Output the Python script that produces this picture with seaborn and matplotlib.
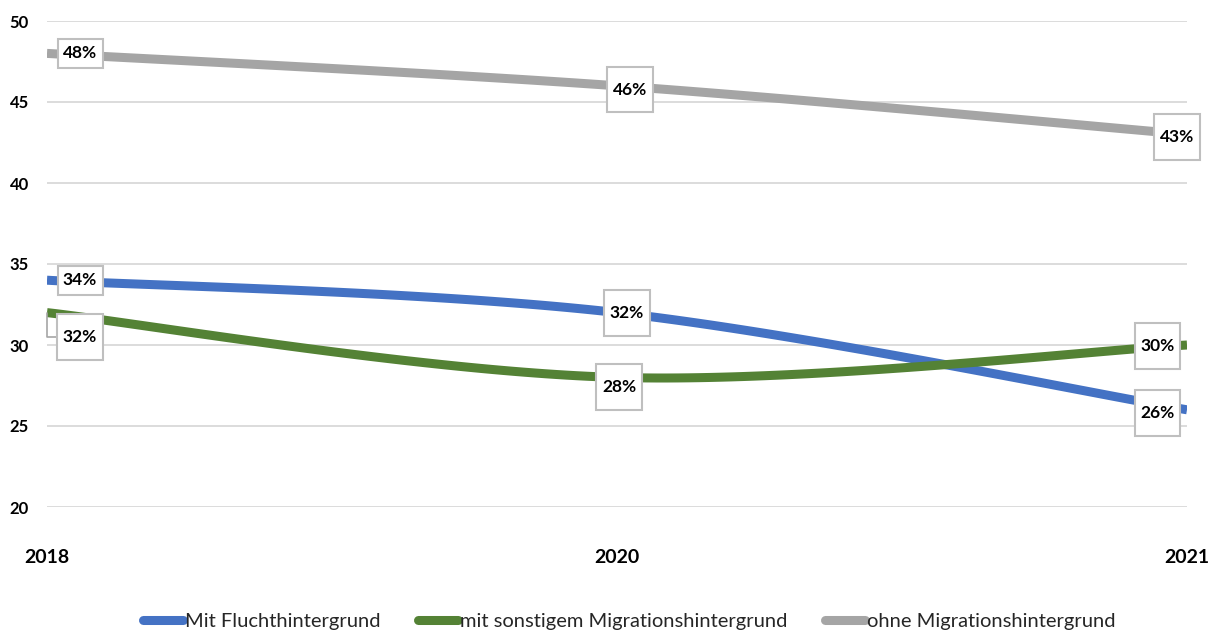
import numpy as np
import pandas as pd
import matplotlib.pyplot as plt
import seaborn as sns
from matplotlib.patches import Rectangle
from matplotlib.lines import Line2D

# data
years = ["2018", "2020", "2021"]
flucht = [34, 32, 26]
sonstig = [32, 28, 30]
ohne = [48, 46, 43]
series_names = ["Mit Fluchthintergrund", "mit sonstigem Migrationshintergrund", "ohne Migrationshintergrund"]
y_ticks = [20, 25, 30, 35, 40, 45, 50]

colors = ["#4472C4", "#548235", "#A5A5A5"]

W, H = 1215, 630


def smooth(ys, n=60):
    # excel style smoothed line: bezier segments through the data points
    pts = np.column_stack([np.arange(len(ys)), ys]).astype(float)
    ext = np.vstack([pts[0], pts, pts[-1]])
    t = np.linspace(0, 1, n)[:, None]
    out = []
    for i in range(len(pts) - 1):
        p0, p3 = ext[i + 1], ext[i + 2]
        c1 = p0 + (ext[i + 2] - ext[i]) / 6
        c2 = p3 - (ext[i + 3] - ext[i + 1]) / 6
        seg = (1 - t) ** 3 * p0 + 3 * (1 - t) ** 2 * t * c1 + 3 * (1 - t) * t ** 2 * c2 + t ** 3 * p3
        out.append(seg if i == 0 else seg[1:])
    return np.vstack(out)


frames = []
for name, vals in zip(series_names, [flucht, sonstig, ohne]):
    c = smooth(vals)
    frames.append(pd.DataFrame({"x": c[:, 0], "y": c[:, 1], "serie": name, "order": np.arange(len(c))}))
curve_df = pd.concat(frames, ignore_index=True)

sns.set_theme(style="white")
plt.rcParams["font.family"] = ["Lato", "DejaVu Sans"]

fig = plt.figure(figsize=(W / 100, H / 100), dpi=100)
ax = fig.add_axes([47 / W, 1 - 507 / H, 1140 / W, 486 / H])

for yv in y_ticks:
    ax.axhline(yv, color="#D9D9D9", lw=1.3, zorder=0)

sns.lineplot(data=curve_df, x="x", y="y", hue="serie", palette=colors, sort=False,
             estimator=None, units="serie", lw=6.5, ax=ax, legend=False, zorder=2)
for ln in ax.get_lines():
    ln.set_solid_capstyle("butt")

ax.set_xlim(0, 2)
ax.set_ylim(20, 50)
ax.set_xticks(range(len(years)))
ax.set_xticklabels(years, fontsize=14, fontweight="bold", color="black")
ax.set_yticks(y_ticks)
ax.set_yticklabels([str(v) for v in y_ticks], fontsize=12, fontweight="bold", color="black")
ax.tick_params(axis="x", length=0, pad=30)
ax.tick_params(axis="y", length=0, pad=13)
ax.set_xlabel("")
ax.set_ylabel("")
for s in ax.spines.values():
    s.set_visible(False)

# data label boxes: offset in pixels (dx, dy up), box width, height
label_layout = {
    0: [(33, 0, 45, 29), (10, 0, 46, 46), (-29, -3, 45, 46)],
    1: [(33, -24, 46, 46), (2, -10, 46, 46), (-29, -1, 45, 46)],
    2: [(33, 0, 45, 29), (13, -4, 46, 45), (-10, -3, 46, 46)],
}

fig.canvas.draw()
for si, vals in enumerate([flucht, sonstig, ohne]):
    for i, v in enumerate(vals):
        dx, dy, bw, bh = label_layout[si][i]
        px, py = ax.transData.transform((i, v))
        cx, cy = px + dx, py + dy
        fig.patches.append(Rectangle(((cx - bw / 2) / W, (cy - bh / 2) / H), bw / W, bh / H,
                                     transform=fig.transFigure, facecolor="white",
                                     edgecolor="#BFBFBF", lw=1.5, zorder=5))
        fig.text(cx / W, cy / H, f"{v}%", ha="center", va="center", fontsize=12.5,
                 fontweight="bold", color="black", zorder=6)
        if si == 1 and i == 0:
            # leader line to the displaced box
            fig.lines.append(Line2D([px / W, px / W, (cx - bw / 2) / W],
                                    [py / H, cy / H, cy / H], transform=fig.transFigure,
                                    color="#A6A6A6", lw=1.2, zorder=1))

handles = [Line2D([], [], color=c, lw=6.5, solid_capstyle="round") for c in colors]
fig.legend(handles, series_names, loc="center", bbox_to_anchor=(0.518, 1 - 621 / H),
           ncol=3, frameon=False, fontsize=14.5, handlelength=2.0, handletextpad=0.1,
           columnspacing=1.85)

fig.savefig("out.png", dpi=100)
